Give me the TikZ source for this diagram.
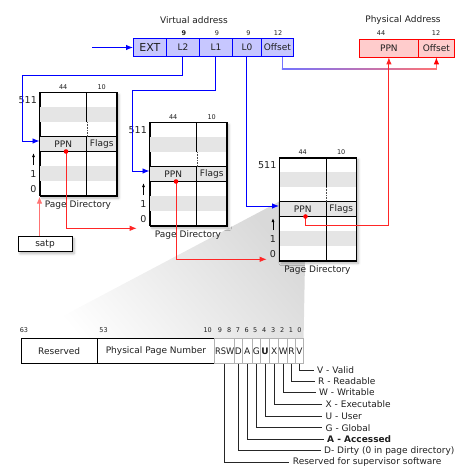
\documentclass[tikz,border=0pt]{standalone}
\usepackage{fontspec}
\setmainfont{DejaVu Sans}
\usetikzlibrary{arrows.meta,shadows.blur,calc}

\tikzset{
  every node/.style={font=\fontsize{9}{10}\selectfont, text=black!88, inner sep=0pt},
  vbox/.style={draw=blue, fill=blue!22, line width=0.8pt, minimum height=18, anchor=west},
  pbox/.style={draw=red, fill=red!20, line width=0.8pt, minimum height=18, anchor=west},
  bits/.style={font=\fontsize{6.5}{7}\selectfont},
  shd/.style={blur shadow={shadow xshift=2pt, shadow yshift=-2pt, shadow blur radius=2.5pt, shadow opacity=28}},
  pdbox/.style={draw=black, line width=0.9pt, fill=white, minimum width=77, minimum height=103.25, shd},
  stripe/.style={fill=gray!20},
  tline/.style={draw=black, line width=0.9pt},
  smallarrow/.style={black, line width=0.8pt, -{Latex[length=4pt,width=3pt]}},
  tip/.style={-{Latex[length=7pt,width=5.5pt]}},
  bline/.style={blue, line width=0.9pt, tip},
  rline/.style={red!85, line width=0.9pt, tip},
  sline/.style={red!55, line width=0.9pt, tip},
  pte/.style={draw=black, line width=0.9pt, minimum height=25, anchor=west},
  bitc/.style={draw=gray!60, line width=0.8pt, minimum height=25, anchor=west},
  leader/.style={draw=black!85, line width=0.8pt},
  lab/.style={anchor=west, inner xsep=3.5pt},
  satpbox/.style={draw=black, line width=0.9pt, fill=white, minimum width=54, minimum height=15, shd}
}

\newcommand\PTable[3]{%
  \node[pdbox, anchor=north west] (#1) at (#2,#3) {};
  \begin{scope}[shift={(#2,#3)}]
    \fill[stripe] (0,14.75) rectangle (77,29.5);
    \fill[stripe] (0,44.25) rectangle (77,59);
    \fill[stripe] (0,73.75) rectangle (77,88.5);
    \draw[tline] (47.4,0) -- (47.4,29.5) (47.4,44.25) -- (47.4,103.25)
                 (0,44.25) -- (77,44.25) (0,59) -- (77,59);
    \draw[black!70, densely dotted, line width=0.6pt] (47.4,29.5) -- (47.4,44.25);
    \draw[tline] (0,0) rectangle (77,103.25);
    \node (#1-ppn) at (23.7,51.8) {PPN};
    \node (#1-flags) at (62.2,51.8) {Flags};
    \node[bits] (#1-w1) at (23.7,-5.7) {44};
    \node[bits] (#1-w2) at (62.2,-5.7) {10};
    \node[anchor=east, font=\fontsize{9.5}{10}\selectfont] (#1-top) at (-2.5,7.6) {511};
    \node[font=\fontsize{9.5}{10}\selectfont] (#1-one) at (-6,81.3) {1};
    \node[font=\fontsize{9.5}{10}\selectfont] (#1-zero) at (-6,96.1) {0};
    \coordinate (#1-ua) at (-6,72.7);
    \coordinate (#1-ub) at (-6,60.5);
    \draw[smallarrow] (#1-ua) -- (#1-ub);
    \node (#1-cap) at (38.5,113) {Page Directory};
    \coordinate (#1-in) at (0,48.5);
    \coordinate (#1-dot) at (26.5,59);
  \end{scope}}

\begin{document}
\begin{tikzpicture}[x=1pt,y=-1pt]
\useasboundingbox (0,0) rectangle (469,476);

% zoom fan
\shade[top color=gray!30, bottom color=white, shading angle=-50]
  (279,201.7) -- (305,262) -- (303.6,338.3) -- (20.7,338.3) -- cycle;

% virtual address
\node (vtitle) at (194,20.5) {Virtual address};
\node[vbox, minimum width=33, font=\fontsize{11}{12}\selectfont] (vEXT) at (133,47.5) {EXT};
\node[vbox, minimum width=33] (vL2) at (166,47.5) {L2};
\node[vbox, minimum width=33] (vL1) at (199,47.5) {L1};
\node[vbox, minimum width=29] (vL0) at (232,47.5) {L0};
\node[vbox, minimum width=32] (vOff) at (261,47.5) {Offset};
\node[bits, font=\fontsize{6.5}{7}\selectfont\bfseries] (n9a) at (184,33) {9};
\node[bits] (n9b) at (217,33) {9};
\node[bits] (n9c) at (248.5,33) {9};
\node[bits] (n12a) at (278,33) {12};

% physical address
\node (ptitle) at (403,20.5) {Physical Address};
\node[pbox, minimum width=59] (pPPN) at (359,48) {PPN};
\node[pbox, minimum width=36] (pOff) at (418,48) {Offset};
\node[bits] (n44) at (381,33) {44};
\node[bits] (n12b) at (436,33) {12};

% page tables
\PTable{tA}{39.5}{92.5}
\PTable{tB}{149.5}{122.5}
\PTable{tC}{279}{157.5}

\node[satpbox] (satp) at (45,244.2) {satp};

% connector points
\coordinate (vin) at (92,47.5);
\coordinate (c1) at (22.7,75.7);
\coordinate (c2) at (132.3,90.7);
\coordinate (eB) at (136.7,228.3);
\coordinate (eC) at (266.7,259.3);
\coordinate (cC) at ($(tC-dot)+(0,9.3)$);
\coordinate (oa) at ($(vOff.south)+(5,0)$);
\coordinate (ob) at ($(oa)+(0,12.3)$);
\coordinate (oc) at (pOff.south |- ob);

% blue connectors
\draw[bline] (vin) -- (vEXT.west);
\draw[bline] (vL2.south) |- (c1) |- (tA-in);
\draw[bline] (vL1.south) |- (c2) |- (tB-in);
\draw[bline] (vL0.south) |- (tC-in);

% offset connector (blue to red)
\draw[blue!55, line width=0.9pt] (oa) -- (ob);
\shade[left color=blue!55, right color=red!55] ($(ob)+(-0.45,-0.45)$) rectangle ($(oc)+(0.45,0.45)$);
\draw[red!55, line width=0.9pt, -{Latex[length=7pt,width=5.5pt,fill=red,color=red]}] (oc) -- (pOff.south);

% red connectors
\draw[sline] (satp.north -| tA.south west) -- (tA.south west);
\draw[rline] (tA-dot) |- (eB);
\draw[rline] (tB-dot) |- (eC);
\draw[rline] (tC-dot) -- (cC) -| (pPPN.south);
\fill[red] (tA-dot) circle[radius=2.3pt];
\fill[red] (tB-dot) circle[radius=2.3pt];
\fill[red] (tC-dot) circle[radius=2.3pt];

% page table entry
\node[pte, minimum width=76] (fRes) at (20.7,350.8) {Reserved};
\node[pte, minimum width=117.6] (fPPN) at (96.7,350.8) {Physical Page Number};
\node[bitc, minimum width=20] (fRSW) at (214.3,350.8) {\scalebox{0.92}[1]{RSW}};
\node[bitc, minimum width=7.4] (bD) at (234.3,350.8) {D};
\node[bitc, minimum width=10.3] (bA) at (241.7,350.8) {A};
\node[bitc, minimum width=8] (bG) at (252,350.8) {G};
\node[bitc, minimum width=9.3] (bU) at (260,350.8) {\bfseries U};
\node[bitc, minimum width=9] (bX) at (269.3,350.8) {X};
\node[bitc, minimum width=9] (bW) at (278.3,350.8) {W};
\node[bitc, minimum width=7.7] (bR) at (287.3,350.8) {R};
\node[bitc, minimum width=8.3] (bV) at (295,350.8) {V};

\node[bits] (k63) at (24,330) {63};
\node[bits] (k53) at (103.5,330) {53};
\node[bits] (k10) at (207.7,330) {10};
\node[bits] (k9) at (220,330) {9};
\node[bits] (k8) at (229.3,330) {8};
\node[bits] (k7) at (238,330) {7};
\node[bits] (k6) at (246.7,330) {6};
\node[bits] (k5) at (255.3,330) {5};
\node[bits] (k4) at (264.3,330) {4};
\node[bits] (k3) at (273.3,330) {3};
\node[bits] (k2) at (282.3,330) {2};
\node[bits] (k1) at (291,330) {1};
\node[bits] (k0) at (299.5,330) {0};

% legend
\node[lab] (lV) at (313.5,370) {V - Valid};
\node[lab] (lR) at (314.5,381.3) {R - Readable};
\node[lab] (lW) at (315.5,392.6) {W - Writable};
\node[lab] (lX) at (322,404.2) {X - Executable};
\node[lab] (lU) at (322,416) {U - User};
\node[lab] (lG) at (322,427.7) {G - Global};
\node[lab, font=\fontsize{9}{10}\selectfont\bfseries] (lA) at (323.5,439.3) {A - Accessed};
\node[lab] (lD) at (320.5,450.8) {D- Dirty (0 in page directory)};
\node[lab] (lS) at (289.2,462.4) {Reserved for supervisor software};

\draw[leader] (bV.south) |- (lV.west);
\draw[leader] (bR.south) |- (lR.west);
\draw[leader] (bW.south) |- (lW.west);
\draw[leader] (bX.south) |- (lX.west);
\draw[leader] (bU.south) |- (lU.west);
\draw[leader] (bG.south) |- (lG.west);
\draw[leader] (bA.south) |- (lA.west);
\draw[leader] (bD.south) |- (lD.west);
\draw[leader] (fRSW.south) |- (lS.west);
\end{tikzpicture}
\end{document}
